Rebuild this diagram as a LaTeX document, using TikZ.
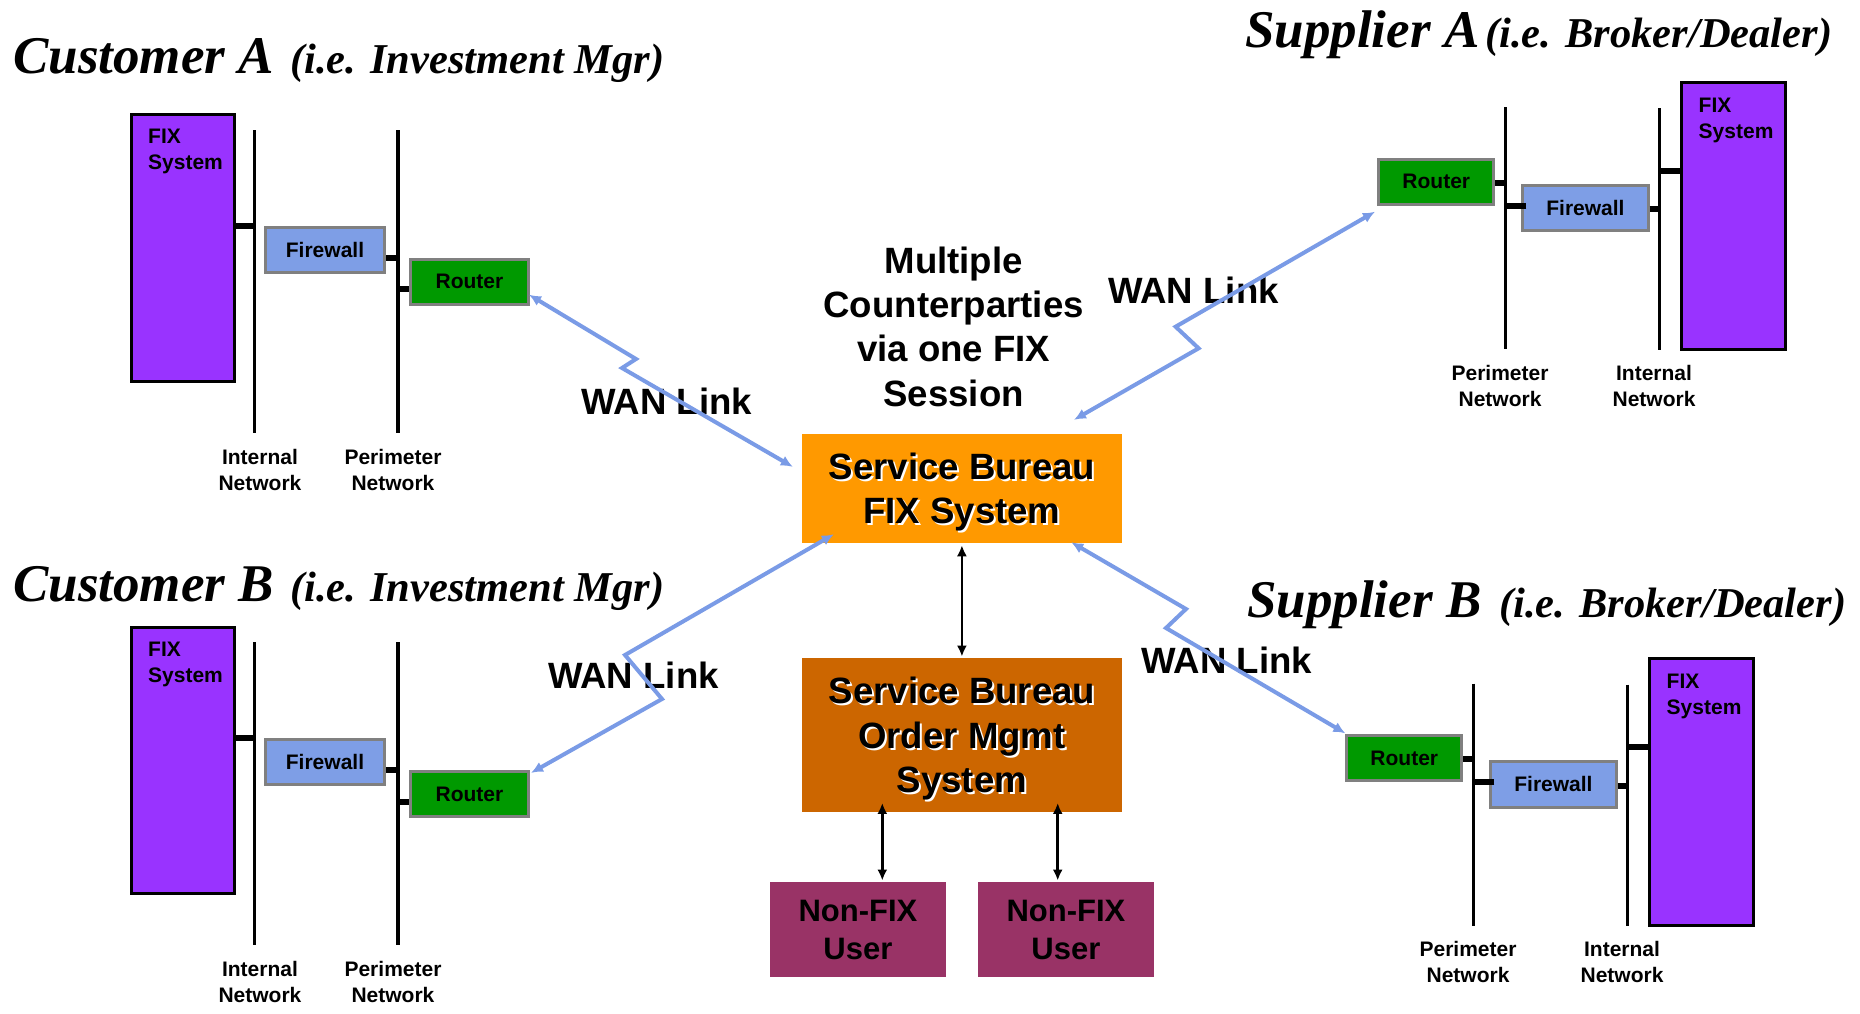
\documentclass[tikz,border=0pt]{standalone}
\usepackage{fontspec}
\setmainfont{Liberation Serif}
\setsansfont{Liberation Sans}
\usetikzlibrary{arrows.meta,calc}

\definecolor{fixpurple}{RGB}{153,51,255}
\definecolor{fwblue}{RGB}{126,158,230}
\definecolor{wanblue}{RGB}{122,155,230}
\definecolor{routergreen}{RGB}{0,153,0}
\definecolor{boxgray}{RGB}{128,128,128}
\definecolor{sborange}{RGB}{255,153,0}
\definecolor{omsbrown}{RGB}{204,102,0}
\definecolor{nfmagenta}{RGB}{153,51,102}

% one line of text with a white drop shadow behind it
\newcommand\shadowline[1]{\leavevmode\rlap{\kern2pt\raisebox{-2pt}{\color{white}#1}}#1}

\tikzset{
  fixbox/.style={draw=black, line width=3pt, fill=fixpurple, inner sep=0pt},
  boxtext/.style={font=\sffamily\bfseries\fontsize{21}{26}\selectfont, align=left,
    inner sep=0pt, anchor=north west},
  fwbox/.style={draw=boxgray, line width=3pt, fill=fwblue, inner sep=0pt,
    font=\sffamily\bfseries\fontsize{21}{26}\selectfont},
  rtbox/.style={draw=boxgray, line width=3pt, fill=routergreen, inner sep=0pt,
    font=\sffamily\bfseries\fontsize{21}{26}\selectfont},
  netline/.style={line width=3.5pt, black},
  stub/.style={line width=6pt, black},
  netlabel/.style={font=\sffamily\bfseries\fontsize{21}{26}\selectfont, align=center,
    inner sep=0pt, text depth=0pt},
  bigtext/.style={font=\sffamily\bfseries\fontsize{36.6}{44.3}\selectfont, align=center,
    inner sep=0pt, text depth=0pt},
  usertext/.style={font=\sffamily\bfseries\fontsize{31}{37.5}\selectfont, align=center,
    inner sep=0pt, text depth=0pt},
  sbbox/.style={inner sep=0pt, minimum width=319.7pt},
  userbox/.style={inner sep=0pt, fill=nfmagenta, minimum width=175.7pt, minimum height=94.9pt},
  ttl/.style={font=\bfseries\itshape\fontsize{53}{60}\selectfont, inner sep=0pt, anchor=base west},
  subttl/.style={font=\bfseries\itshape\fontsize{42.5}{48}\selectfont, inner sep=0pt, anchor=base west},
  wan/.style={draw=wanblue, line width=4pt, line join=miter,
    {Latex[length=12pt,width=11pt]}-{Latex[length=12pt,width=11pt]}},
  bk/.style={line width=2.5pt, black, {Latex[length=11pt,width=10pt]}-{Latex[length=11pt,width=10pt]}},
  % customer site: FIX system, internal network, firewall, perimeter network, router
  custgroup/.pic={
    \coordinate (-inT) at (254.5,130); \coordinate (-inB) at (254.5,433);
    \coordinate (-peT) at (398,130);   \coordinate (-peB) at (398,433);
    \draw[netline] (-inT) -- (-inB);
    \draw[netline] (-peT) -- (-peB);
    \node[fixbox, minimum width=103.2pt, minimum height=266.4pt] (-fix) at (182.6,248) {};
    \node[boxtext] (-fixt) at ($(-fix.north west)+(18.5,16)$) {FIX\\System};
    \node[fwbox, minimum width=119pt, minimum height=45.3pt] (-fw) at (325,249.85) {Firewall};
    \node[rtbox, minimum width=118pt, minimum height=45pt] (-rt) at (469.5,281.7) {Router\hspace{14pt}};
    \draw[stub] ([yshift=22.3pt]-fix.east) -- ++(18.8,0);
    \draw[stub] ([yshift=-7.85pt]-fw.east) -- ++(12,0);
    \draw[stub] ([yshift=-7.6pt]-rt.west) -- ++(-11,0);
    \node[netlabel] (-inL) at (260,470) {Internal\\Network};
    \node[netlabel] (-peL) at (393,470) {Perimeter\\Network};
  },
  % supplier site: router, perimeter network, firewall, internal network, FIX system
  suppgroup/.pic={
    \coordinate (-peT) at (1505.5,107.3); \coordinate (-peB) at (1505.5,349.3);
    \coordinate (-inT) at (1659.5,108.3); \coordinate (-inB) at (1659.5,350);
    \draw[netline] (-peT) -- (-peB);
    \draw[netline] (-inT) -- (-inB);
    \node[rtbox, minimum width=114.7pt, minimum height=45.3pt] (-rt) at (1436.25,181.85) {Router\hspace{10pt}};
    \node[fwbox, minimum width=125.1pt, minimum height=45.6pt] (-fw) at (1585.45,208) {Firewall\hspace{9pt}};
    \node[fixbox, minimum width=104pt, minimum height=266.7pt] (-fix) at (1733.5,215.85) {};
    \node[boxtext] (-fixt) at ($(-fix.north west)+(18.5,16.5)$) {FIX\\System};
    \draw[stub] ([yshift=-1.15pt]-rt.east) -- ++(10.4,0);
    \draw[stub] ([yshift=2pt,xshift=5pt]-fw.west) -- ++(-21,0);
    \draw[stub] ([yshift=-1.3pt]-fw.east) -- ++(10,0);
    \draw[stub] ([yshift=45.15pt]-fix.west) -- ++(-20.5,0);
    \node[netlabel] (-peL) at (1500,386) {Perimeter\\Network};
    \node[netlabel] (-inL) at (1654,386) {Internal\\Network};
  }
}

\begin{document}
\begin{tikzpicture}[x=1pt,y=-1pt]
\useasboundingbox (0,0) rectangle (1860,1013);

% headings
\node[ttl] (tCA) at (13,73) {Customer A};
\node[subttl] (sCA) at (290,73) {(i.e. Investment Mgr)};
\node[ttl] (tCB) at (13,601) {Customer B};
\node[subttl] (sCB) at (290,601) {(i.e. Investment Mgr)};
\node[ttl] (tSA) at (1245,47) {Supplier A};
\node[subttl] (sSA) at (1485,47) {(i.e. Broker/Dealer)};
\node[ttl] (tSB) at (1247,617) {Supplier B};
\node[subttl] (sSB) at (1499,617) {(i.e. Broker/Dealer)};

% the four sites
\pic (custA) at (0,0) {custgroup};
\pic (custB) at (0,512.2) {custgroup};
\pic (supA) at (0,0) {suppgroup};
\pic (supB) at (-32,576.3) {suppgroup};

% service bureau
\node[sbbox, fill=sborange, minimum height=108.5pt, bigtext] (sbfix) at (961.9,488.3)
  {\shadowline{Service Bureau}\\\shadowline{FIX System}};
\node[sbbox, fill=omsbrown, minimum height=153.5pt, bigtext] (oms) at (961.9,735)
  {\shadowline{Service Bureau}\\\shadowline{Order Mgmt}\\\shadowline{System}};
\node[userbox, usertext] (nf1) at (857.9,929.7) {Non-FIX\\User};
\node[userbox, usertext] (nf2) at (1065.9,929.7) {Non-FIX\\User};

\node[bigtext] (multi) at (953.7,326.5) {Multiple\\Counterparties\\via one FIX\\Session};

% WAN link captions
\node[bigtext] (wanCA) at (666.7,401.7) {WAN Link};
\node[bigtext] (wanSA) at (1193.4,290) {WAN Link};
\node[bigtext] (wanCB) at (633.4,675) {WAN Link};
\node[bigtext] (wanSB) at (1226.5,660) {WAN Link};

% WAN links with their zigzag
\coordinate (zA1) at (636,359);     \coordinate (zA2) at (622,368);
\coordinate (zB1) at (625,655);     \coordinate (zB2) at (662,699);
\coordinate (zC1) at (1175.6,326.7); \coordinate (zC2) at (1198.6,348.3);
\coordinate (zD1) at (1186,609);    \coordinate (zD2) at (1166,628);
\draw[wan] ($(custA-rt.south east)+(-1,-11)$) -- (zA1) -- (zA2) -- ($(sbfix.north west)+(-9,33)$);
\draw[wan] ($(sbfix.south west)+(32,-8.5)$) -- (zB1) -- (zB2) -- ($(custB-rt.north east)+(1,3)$);
\draw[wan] ($(supA-rt.south west)+(-2.4,5.7)$) -- (zC1) -- (zC2) -- ($(sbfix.north east)+(-48,-14)$);
\draw[wan] ($(sbfix.south east)+(-50.7,-0.5)$) -- (zD1) -- (zD2) -- ($(supB-rt.north west)+(0,-0.7)$);

% internal links of the service bureau
\draw[bk] ([yshift=-2.5pt]sbfix.south) -- ([yshift=1.5pt]oms.north);
\draw[bk] ($(nf1.north |- oms.south)+(24.4,-9)$) -- ($(nf1.north)+(24.4,-1.5)$);
\draw[bk] ($(nf2.north |- oms.south)+(-8.2,-9)$) -- ($(nf2.north)+(-8.2,-1.5)$);
\end{tikzpicture}
\end{document}
